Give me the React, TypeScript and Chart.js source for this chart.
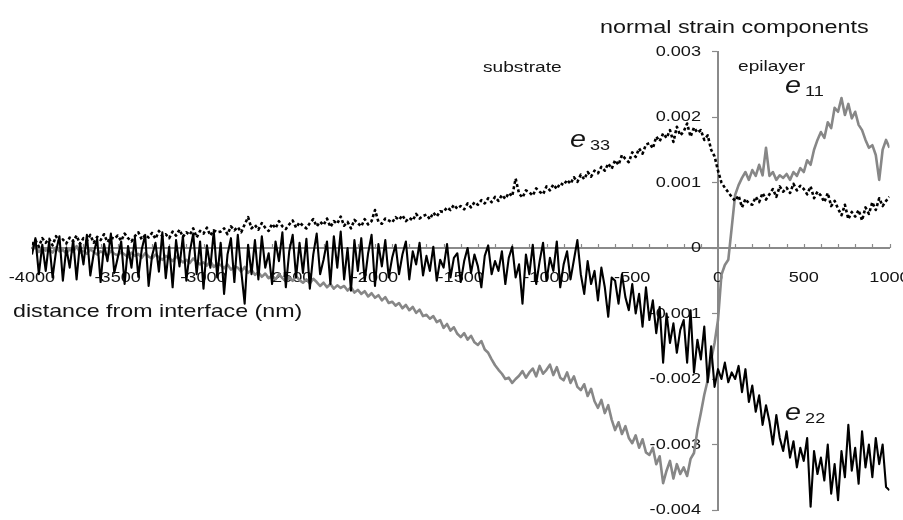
import React, { useEffect, useRef } from "react";
import { Chart, registerables } from "chart.js";

Chart.register(...registerables);

// distance from interface (nm)
const distanceNm = [
  -4000, -3980, -3960, -3940, -3920,
  -3900, -3880, -3860, -3840, -3820,
  -3800, -3780, -3760, -3740, -3720,
  -3700, -3680, -3660, -3640, -3620,
  -3600, -3580, -3560, -3540, -3520,
  -3500, -3480, -3460, -3440, -3420,
  -3400, -3380, -3360, -3340, -3320,
  -3300, -3280, -3260, -3240, -3220,
  -3200, -3180, -3160, -3140, -3120,
  -3100, -3080, -3060, -3040, -3020,
  -3000, -2980, -2960, -2940, -2920,
  -2900, -2880, -2860, -2840, -2820,
  -2800, -2780, -2760, -2740, -2720,
  -2700, -2680, -2660, -2640, -2620,
  -2600, -2580, -2560, -2540, -2520,
  -2500, -2480, -2460, -2440, -2420,
  -2400, -2380, -2360, -2340, -2320,
  -2300, -2280, -2260, -2240, -2220,
  -2200, -2180, -2160, -2140, -2120,
  -2100, -2080, -2060, -2040, -2020,
  -2000, -1980, -1960, -1940, -1920,
  -1900, -1880, -1860, -1840, -1820,
  -1800, -1780, -1760, -1740, -1720,
  -1700, -1680, -1660, -1640, -1620,
  -1600, -1580, -1560, -1540, -1520,
  -1500, -1480, -1460, -1440, -1420,
  -1400, -1380, -1360, -1340, -1320,
  -1300, -1280, -1260, -1240, -1220,
  -1200, -1180, -1160, -1140, -1120,
  -1100, -1080, -1060, -1040, -1020,
  -1000, -980, -960, -940, -920,
  -900, -880, -860, -840, -820,
  -800, -780, -760, -740, -720,
  -700, -680, -660, -640, -620,
  -600, -580, -560, -540, -520,
  -500, -480, -460, -440, -420,
  -400, -380, -360, -340, -320,
  -300, -280, -260, -240, -220,
  -200, -180, -160, -140, -120,
  -100, -80, -60, -40, -20,
  0, 20, 40, 60, 80,
  100, 120, 140, 160, 180,
  200, 220, 240, 260, 280,
  300, 320, 340, 360, 380,
  400, 420, 440, 460, 480,
  500, 520, 540, 560, 580,
  600, 620, 640, 660, 680,
  700, 720, 740, 760, 780,
  800, 820, 840, 860, 880,
  900, 920, 940, 960, 980,
  1000,
];

// strain values in units of 1e-5
const e11 = [
  -3, 2, -6, 0, -4,
  -2, -7, 1, -5, -3,
  -8, -2, -6, 3, -7,
  -4, -9, -2, -6, -10,
  -5, -8, -12, -4, -9,
  -11, -6, -10, -14, -7,
  -12, -9, -15, -8, -13,
  -16, -10, -14, -18, -12,
  -15, -20, -13, -17, -22,
  -18, -23, -16, -21, -25,
  -22, -27, -20, -29, -24,
  -26, -31, -25, -33, -28,
  -30, -36, -29, -38, -33,
  -41, -37, -44, -39, -46,
  -42, -48, -40, -46, -51,
  -45, -50, -43, -49, -53,
  -48, -54, -47, -52, -58,
  -53, -60, -55, -62, -57,
  -61, -58, -65, -60, -68,
  -64, -70, -66, -74, -69,
  -76, -72, -80, -75, -84,
  -82, -88, -84, -92, -87,
  -95, -90, -99, -94, -104,
  -102, -108, -104, -113, -110,
  -122, -116, -126, -121, -131,
  -136, -130, -140, -134, -144,
  -148, -142, -155, -160, -170,
  -179, -186, -192, -200, -198,
  -206, -200, -195, -188, -198,
  -190, -184, -196, -180, -192,
  -186, -178, -194, -182, -198,
  -202, -190, -206, -196, -212,
  -217, -208, -226, -215, -234,
  -244, -232, -252, -240, -262,
  -278, -266, -284, -272, -290,
  -298, -286, -305, -292, -312,
  -316, -305, -330, -318, -359,
  -340, -325, -352, -330, -345,
  -335, -348, -322, -313, -278,
  -252, -224, -202, -171, -145,
  -110, -41, -26, -18, 31,
  81, 96, 107, 116, 104,
  119, 110, 127, 111, 153,
  110, 116, 104, 111, 107,
  113, 104, 116, 110, 122,
  116, 134, 127, 150, 165,
  177, 168, 192, 183, 214,
  208, 229, 203, 220, 198,
  208, 188, 180, 165, 153,
  157, 142, 104, 150, 165,
  153,
];

const e22 = [
  -10, 15, -40, 5, -35,
  10, -45, -5, 18, -50,
  0, -30, 12, -48, 8,
  -25, 20, -42, -8, 14,
  -52, 6, -20, 22, -38,
  -15, 10, -55, 3, -30,
  16, -44, -2, 20, -58,
  -12, 8, -36, 24, -46,
  2, -60, 12, -28, 18,
  -50, -6, 22, -40, 10,
  -62, 4, -30, 26, -45,
  8, -70, -10, 15, -52,
  20, -35, -85, 5, -40,
  12, -48, 18, -30, -8,
  -55, 10, -20, 24, -60,
  -5, 20, -45, 8, -38,
  14, -62, -10, 22, -40,
  -18, 10, -55, 18, -30,
  25, -48, 0, -65, 12,
  -35, 15, -50, -8, 20,
  -58, 6, -28, 12, -45,
  -15, 5, -40, -10, 10,
  -48, -5, -25, 8, -42,
  -12, -35, 2, -50, -18,
  -30, 6, -45, -15, -8,
  -52, -20, 0, -38, -10,
  -28, -60, -12, 4, -40,
  -20, -35, -5, -55, -15,
  2, -45, -25, -85, -10,
  -40, 5, -55, -20, 8,
  -50, -15, -35, 10, -60,
  -25, -5, -48, -18, 12,
  -40, -70, -20, -55, -35,
  -80, -30, -60, -105, -45,
  -50, -85, -40, -75, -95,
  -55, -100, -70, -120, -60,
  -110, -80, -130, -90, -175,
  -100, -145, -115, -160, -125,
  -110, -175, -95, -190, -140,
  -170, -120, -205, -150, -212,
  -185, -200, -175, -205, -190,
  -200, -180, -220, -185, -235,
  -210, -250, -225, -270, -240,
  -265, -300, -255, -290, -310,
  -280, -320, -295, -335, -305,
  -325, -290, -395, -310, -345,
  -320, -355, -300, -375, -330,
  -385, -310, -350, -270, -340,
  -305, -360, -280, -335, -300,
  -350, -290, -330, -300, -365,
  -370,
];

const e33 = [
  5, 12, 2, 15, 8,
  14, 4, 18, 9, 13,
  7, 16, 10, 19, 6,
  15, 11, 20, 8, 17,
  12, 21, 9, 16, 14,
  19, 11, 22, 15, 10,
  18, 24, 13, 20, 16,
  23, 14, 26, 18, 21,
  15, 25, 19, 28, 17,
  24, 20, 30, 16, 26,
  22, 31, 19, 27, 24,
  25, 30, 21, 33, 27,
  32, 24, 36, 47, 30,
  35, 28, 38, 31, 26,
  37, 30, 41, 33, 29,
  36, 42, 31, 39, 34,
  30, 38, 44, 33, 40,
  35, 45, 32, 41, 37,
  48, 34, 40, 30, 43,
  38, 33, 44, 36, 41,
  58, 40, 37, 45, 42,
  39, 47, 43, 50, 41,
  46, 42, 52, 45, 49,
  51, 44, 54, 48, 56,
  55, 62, 58, 66, 60,
  64, 59, 68, 62, 70,
  66, 73, 68, 76, 70,
  78, 72, 81, 75, 84,
  79, 106, 83, 77, 88,
  85, 80, 91, 86, 82,
  94, 88, 97, 90, 99,
  96, 104, 98, 108, 101,
  112, 105, 116, 109, 118,
  114, 124, 118, 129, 121,
  134, 127, 142, 136, 131,
  146, 139, 152, 144, 158,
  160, 152, 170, 163, 175,
  168, 180, 162, 185, 172,
  178, 190, 170, 184, 176,
  180, 165, 172, 150, 140,
  118, 100, 92, 85, 78,
  72, 80, 62, 75, 68,
  66, 78, 70, 84, 74,
  82, 90, 78, 94, 86,
  92, 84, 98, 88, 95,
  90, 82, 94, 76, 86,
  80, 70, 84, 64, 72,
  60, 50, 66, 44, 55,
  48, 58, 42, 62, 52,
  70, 58, 76, 64, 72,
  78,
];

const STRAIN_UNIT = 1e-5;

const xLabeledTicks = [-4000, -3500, -3000, -2500, -2000, -1500, -1000, -500, 0, 500, 1000];
const yTickLabels = ["0.003", "0.002", "0.001", "0", "-0.001", "-0.002", "-0.003", "-0.004"];

const AXIS_GRAY = "#8a8a8a";
const TEXT = "#141414";
const FONT = '"Liberation Sans", Arial, Helvetica, sans-serif';
const STRETCH = 1.25;

function drawText(
  ctx: CanvasRenderingContext2D,
  text: string,
  x: number,
  y: number,
  size: number,
  align: CanvasTextAlign = "left",
  baseline: CanvasTextBaseline = "alphabetic",
  italic = false
): number {
  ctx.save();
  ctx.font = `${italic ? "italic " : ""}${size}px ${FONT}`;
  ctx.fillStyle = TEXT;
  ctx.textAlign = align;
  ctx.textBaseline = baseline;
  ctx.translate(x, y);
  ctx.scale(STRETCH, 1);
  ctx.fillText(text, 0, 0);
  const w = ctx.measureText(text).width * STRETCH;
  ctx.restore();
  return w;
}

const textPlugin = {
  id: "strainText",
  beforeDatasetsDraw(chart: any) {
    const ctx: CanvasRenderingContext2D = chart.ctx;
    const xs = chart.scales.x;
    const ys = chart.scales.y;
    const y0 = ys.getPixelForValue(0);
    const x0 = xs.getPixelForValue(0);

    // x tick marks (pointing up, like the original)
    ctx.save();
    ctx.strokeStyle = AXIS_GRAY;
    ctx.lineWidth = 1.2;
    xs.ticks.forEach((t: any) => {
      const px = Math.round(xs.getPixelForValue(t.value)) + 0.5;
      ctx.beginPath();
      ctx.moveTo(px, y0);
      ctx.lineTo(px, y0 - 4);
      ctx.stroke();
    });
    ctx.restore();

    // x tick labels
    xs.ticks.forEach((t: any) => {
      if (!t.label) return;
      drawText(ctx, String(t.label), xs.getPixelForValue(t.value), y0 + 30, 14.5, "center", "middle");
    });
    // y tick labels
    ys.ticks.forEach((t: any) => {
      if (!t.label) return;
      drawText(ctx, String(t.label), x0 - 17, ys.getPixelForValue(t.value), 14.5, "right", "middle");
    });

    // titles
    drawText(ctx, "normal strain components", 600, 33, 18.7);
    drawText(ctx, "distance from interface (nm)", 13, 317, 18.6);

    // region labels
    drawText(ctx, "substrate", xs.getPixelForValue(-1370), ys.getPixelForValue(0.00269), 15.3);
    drawText(ctx, "epilayer", xs.getPixelForValue(117), ys.getPixelForValue(0.00270), 15.3);

    // component labels
    const comp = (name: string, sub: string, xv: number, yv: number) => {
      const px = xs.getPixelForValue(xv);
      const py = ys.getPixelForValue(yv);
      const w = drawText(ctx, name, px, py, 23, "left", "alphabetic", true);
      drawText(ctx, sub, px + w + 4, py + 3, 14.5);
    };
    comp("e", "33", -863, 0.00154);
    comp("e", "11", 391, 0.00237);
    comp("e", "22", 391, -0.00263);
  },
};

export default function App() {
  const canvasRef = useRef<HTMLCanvasElement | null>(null);

  useEffect(() => {
    const canvas = canvasRef.current;
    if (!canvas) return;
    const pts = (arr: number[]) => distanceNm.map((x, i) => ({ x, y: arr[i] * STRAIN_UNIT }));

    const chart = new Chart(canvas, {
      type: "line",
      data: {
        datasets: [
          {
            label: "e22",
            data: pts(e22),
            borderColor: "#000000",
            borderWidth: 2.1,
            borderJoinStyle: "round",
            pointRadius: 0,
            tension: 0,
          },
          {
            label: "e33",
            data: pts(e33),
            borderColor: "#000000",
            borderWidth: 2.6,
            borderDash: [3, 2.5],
            borderJoinStyle: "round",
            pointRadius: 0,
            tension: 0,
          },
          {
            label: "e11",
            data: pts(e11),
            borderColor: "#878787",
            borderWidth: 2.6,
            borderJoinStyle: "round",
            pointRadius: 0,
            tension: 0,
          },
        ],
      },
      options: {
        animation: false,
        responsive: false,
        devicePixelRatio: 1,
        layout: { padding: { left: 32, right: 13.5, top: 51.5, bottom: 10 } },
        plugins: {
          legend: { display: false },
          title: { display: false },
          tooltip: { enabled: false },
        },
        scales: {
          x: {
            type: "linear",
            min: -4000,
            max: 1000,
            position: { y: 0 } as any,
            ticks: {
              stepSize: 100,
              maxTicksLimit: 200,
              autoSkip: false,
              display: false,
              callback: (v: any) => (xLabeledTicks.includes(Number(v)) ? String(v) : ""),
            },
            grid: { drawOnChartArea: false, drawTicks: false, color: AXIS_GRAY },
            border: { display: true, color: AXIS_GRAY, width: 2 },
          },
          y: {
            type: "linear",
            min: -0.004,
            max: 0.003,
            position: { x: 0 } as any,
            ticks: {
              stepSize: 0.001,
              display: false,
              callback: (v: any) => {
                const idx = Math.round((0.003 - Number(v)) / 0.001);
                return yTickLabels[idx] ?? "";
              },
            },
            grid: { drawOnChartArea: false, drawTicks: true, tickLength: 5, tickWidth: 1.2, color: AXIS_GRAY },
            border: { display: true, color: AXIS_GRAY, width: 2 },
          },
        },
      },
      plugins: [textPlugin],
    });
    return () => chart.destroy();
  }, []);

  return (
    <div style={{ position: "absolute", left: 0, top: 0, width: 903, height: 520, background: "#fff" }}>
      <canvas ref={canvasRef} width={903} height={520} style={{ display: "block" }} />
    </div>
  );
}
